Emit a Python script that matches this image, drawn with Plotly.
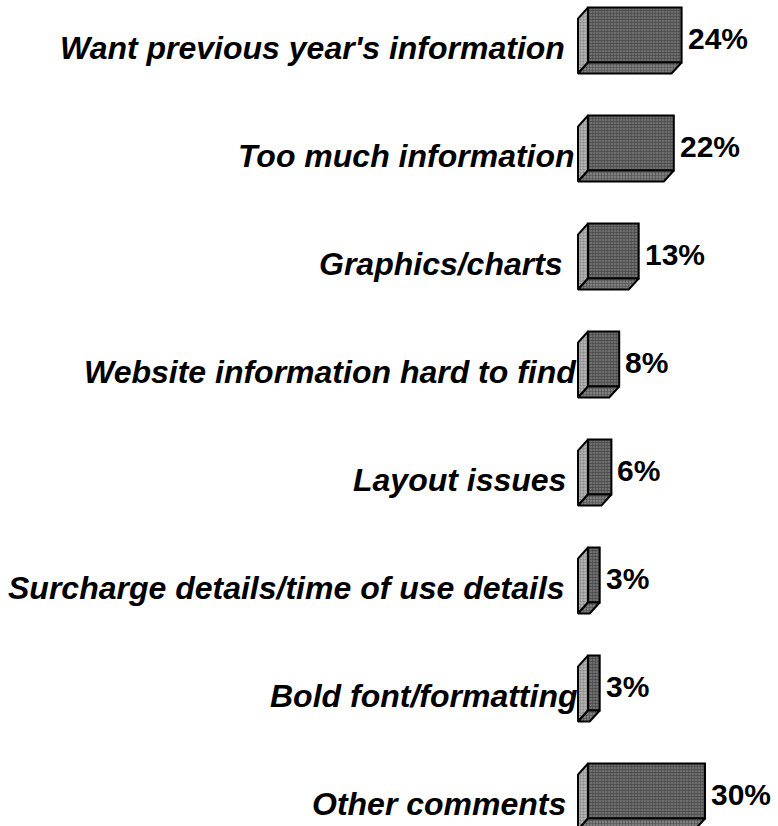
import plotly.graph_objects as go

# Survey comment categories and their share of responses (%)
categories = [
    "Want previous year's information",
    "Too much information",
    "Graphics/charts",
    "Website information hard to find",
    "Layout issues",
    "Surcharge details/time of use details",
    "Bold font/formatting",
    "Other comments",
]
values = [24, 22, 13, 8, 6, 3, 3, 30]

# Horizontal nudge (px) of each category label's right edge
label_shift = [-21, -11, -23, -9, -20, -21, -9, -20]

FONT = "Arial, Liberation Sans, sans-serif"
BAR_W = 0.509          # thickness of the front face (category units)
DEPTH_X = -2.56        # extrusion to the left (value units)
DEPTH_Y = 0.102        # extrusion downwards (category units)

ys = list(range(len(categories)))

fig = go.Figure()

# Left side faces and bottom faces of the extruded bars
side_x, side_y, bot_x, bot_y = [], [], [], []
for y, v in zip(ys, values):
    top, bot = y - BAR_W / 2, y + BAR_W / 2
    side_x += [0, 0, DEPTH_X, DEPTH_X, 0, None]
    side_y += [top, bot, bot + DEPTH_Y, top + DEPTH_Y, top, None]
    bot_x += [0, v, v + DEPTH_X, DEPTH_X, 0, None]
    bot_y += [bot, bot, bot + DEPTH_Y, bot + DEPTH_Y, bot, None]

fig.add_trace(go.Scatter(
    x=side_x, y=side_y, mode="lines", fill="toself",
    fillcolor="#b0b0b0",
    fillpattern=dict(shape=".", fgcolor="#5e5e5e", bgcolor="#bcbcbc",
                     size=3, solidity=0.5),
    line=dict(color="black", width=2),
    hoverinfo="skip", showlegend=False,
))
fig.add_trace(go.Scatter(
    x=bot_x, y=bot_y, mode="lines", fill="toself",
    fillcolor="#666666",
    fillpattern=dict(shape=".", fgcolor="#1e1e1e", bgcolor="#8a8a8a",
                     size=3, solidity=0.5),
    line=dict(color="black", width=2),
    hoverinfo="skip", showlegend=False,
))

# Front faces
fig.add_trace(go.Bar(
    x=values, y=ys, orientation="h", base=0, width=BAR_W,
    marker=dict(color="#7a7a7a", line=dict(color="black", width=2),
                pattern=dict(shape=".", fgcolor="#141414", bgcolor="#7c7c7c",
                             size=3, solidity=0.55)),
    showlegend=False, hoverinfo="skip",
))

annotations = []
for y, v, cat, sh in zip(ys, values, categories, label_shift):
    annotations.append(dict(
        x=DEPTH_X, y=y, xref="x", yref="y", text=cat, showarrow=False,
        xanchor="right", yanchor="middle", xshift=sh + 10, yshift=-13,
        font=dict(family=FONT, size=32, color="black",
                  weight="bold", style="italic"),
    ))
    annotations.append(dict(
        x=v, y=y, xref="x", yref="y", text=f"{v}%", showarrow=False,
        xanchor="left", yanchor="middle", xshift=4, yshift=-3,
        font=dict(family=FONT, size=30, color="black", weight="bold"),
    ))

PX_PER_UNIT = 3.9
fig.update_layout(
    width=778, height=826,
    margin=dict(l=0, r=0, t=0, b=0),
    paper_bgcolor="white", plot_bgcolor="white",
    xaxis=dict(range=[-588 / PX_PER_UNIT, 190 / PX_PER_UNIT], visible=False,
               fixedrange=True),
    yaxis=dict(range=[(826 - 35) / 108, -35 / 108], visible=False,
               fixedrange=True),
    annotations=annotations,
)

fig.write_html("out.html")
